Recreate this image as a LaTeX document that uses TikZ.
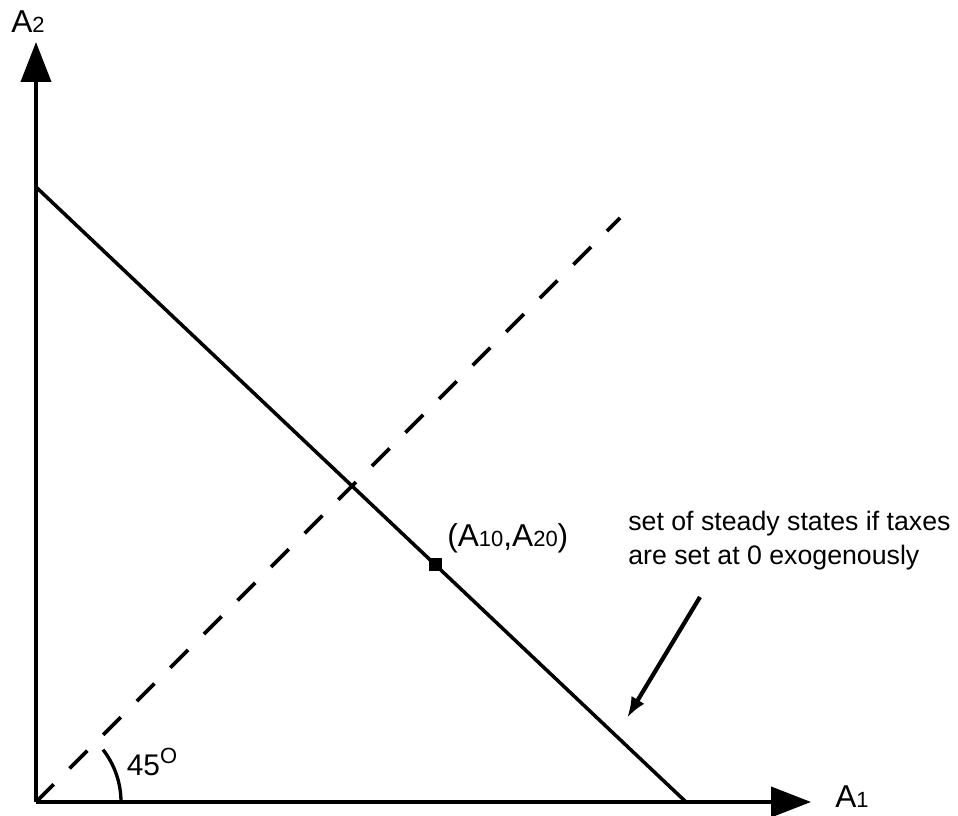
\documentclass[tikz,border=0pt]{standalone}
\usepackage{fontspec}
\setmainfont{Liberation Sans}
\usetikzlibrary{arrows.meta}
\usetikzlibrary{calc}
\tikzset{>=latex}
\tikzstyle{axis}=[line width=2.2pt,-{Triangle[length=0.8cm,width=0.6cm]}]
\tikzstyle{budget}=[line width=2pt]
\tikzstyle{diag}=[line width=2.1pt,dash pattern=on 0.5cm off 0.45cm]
\tikzstyle{pointer}=[line width=2.4pt,-{Latex[length=0.42cm,width=0.3cm]}]
\tikzstyle{lbl}=[font=\fontsize{18}{21}\selectfont,inner sep=0pt]
\tikzstyle{note}=[font=\fontsize{15.2}{19}\selectfont,inner sep=0pt,align=left]
\newcommand{\lowidx}[1]{{\fontsize{12.5}{12.5}\selectfont #1}}

\begin{document}
\begin{tikzpicture}
  \def\X{15.5}  % length of A1 axis
  \def\Y{15.2}  % length of A2 axis
  \def\R{1.7}   % radius of angle mark
  \useasboundingbox (-0.72,-0.28) rectangle (18.44,16.04);

  % axes
  \coordinate (O) at (0,0);
  \coordinate (xend) at (\X,0);
  \coordinate (yend) at (0,\Y);
  \draw[axis] (O) -- (xend);
  \draw[axis] (O) -- (yend);
  \node[lbl,anchor=west] (a1) at (15.98,0.1) {A\lowidx{1}};
  \node[lbl] (a2) at (-0.16,15.6) {A\lowidx{2}};

  % line of steady states
  \coordinate (top) at (0,12.3);
  \coordinate (bot) at (13,0);
  \draw[budget] (top) -- (bot);

  % 45 degree line
  \coordinate (diagend) at (11.68,11.68);
  \draw[diag] (O) -- (diagend);
  \draw[line width=1.9pt] (\R,0) arc (0:38:\R);
  \node[lbl,font=\fontsize{17}{20}\selectfont] (deg) at (2.32,0.8) {45\raisebox{0.75ex}{\lowidx{O}}};

  % initial point
  \coordinate (p0) at ($(top)!0.614!(bot)$);
  \fill (p0) ++(-0.13,-0.13) rectangle ++(0.26,0.26);
  \node[lbl,anchor=west] (p0lbl) at (8.22,5.28) {(A\lowidx{10},A\lowidx{20})};

  % annotation
  \node[note,anchor=north west] (note) at (11.84,5.82)
    {set of steady states if taxes\\are set at 0 exogenously};
  \coordinate (tail) at (13.28,4.1);
  \coordinate (tip) at (11.82,1.68);
  \draw[pointer] (tail) -- (tip);
\end{tikzpicture}
\end{document}
